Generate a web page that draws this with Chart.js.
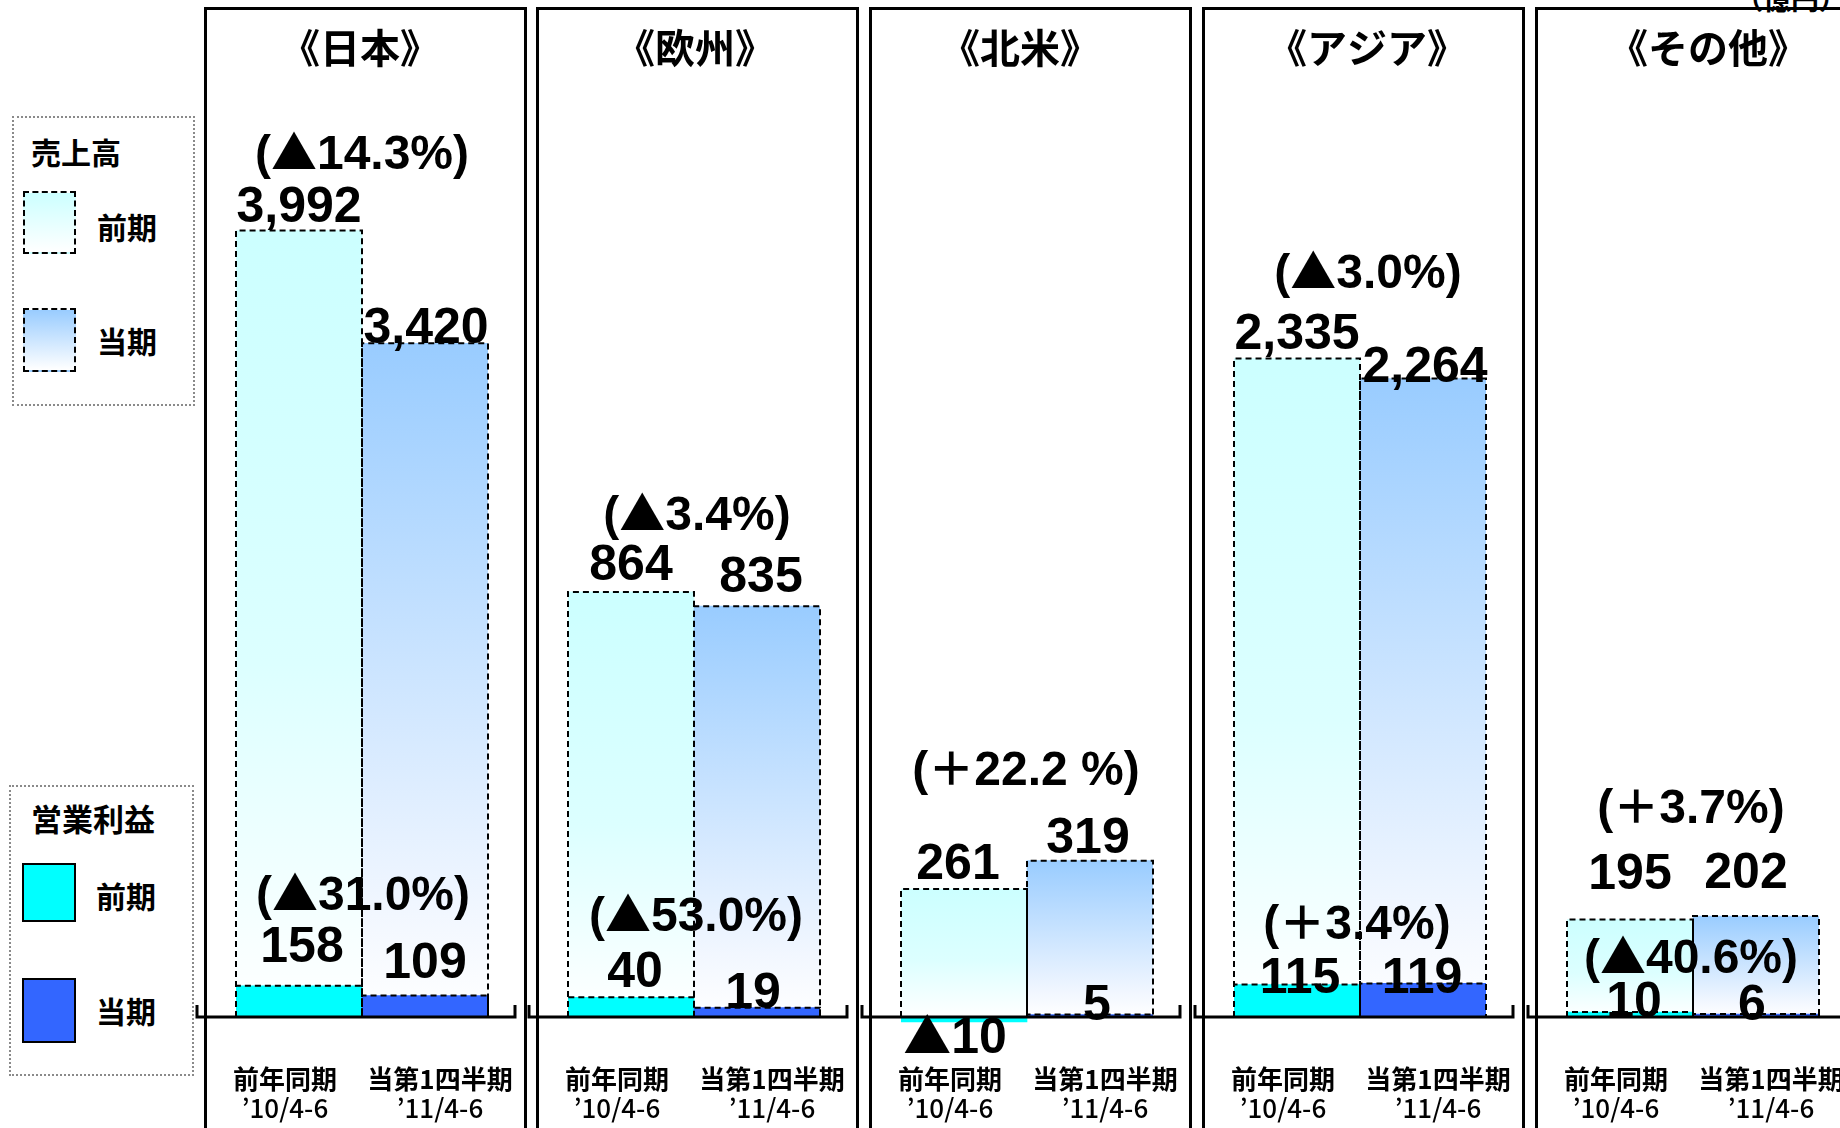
<!DOCTYPE html>
<html lang="ja">
<head>
<meta charset="utf-8">
<script src="https://cdn.jsdelivr.net/npm/chart.js@4.4.1/dist/chart.umd.min.js"></script>
<style>
  html, body { margin:0; padding:0; background:#fff; }
  body { width:1840px; height:1128px; overflow:hidden; position:relative; font-family:"Noto Sans CJK JP", sans-serif; }
  .box { position:absolute; top:7px; height:1200px; width:323px; box-sizing:border-box; border:3px solid #000; border-bottom:none; }
  canvas.pc { position:absolute; top:0; }
  .leg { position:absolute; box-sizing:border-box; border:2px dotted #8a8a8a; }
  .lt { position:absolute; font-weight:bold; color:#000; white-space:nowrap; }
  .sw { position:absolute; box-sizing:border-box; }
  .unit { position:absolute; left:1735px; top:-16px; font:bold 28px/28px "Noto Sans CJK JP"; white-space:nowrap; }
</style>
</head>
<body>
<div class="unit">（億円）</div>

<div class="leg" style="left:12px;top:116px;width:183px;height:290px;"></div>
<div class="lt" style="left:31px;top:136px;font-size:30px;line-height:30px;">売上高</div>
<div class="sw" style="left:23px;top:191px;width:53px;height:63px;border:2px dashed #000;background:linear-gradient(#ccffff,#ffffff);"></div>
<div class="lt" style="left:97px;top:211px;font-size:30px;line-height:30px;">前期</div>
<div class="sw" style="left:23px;top:308px;width:53px;height:64px;border:2px dashed #000;background:linear-gradient(#99ccff,#ffffff);"></div>
<div class="lt" style="left:97px;top:325px;font-size:30px;line-height:30px;">当期</div>

<div class="leg" style="left:9px;top:785px;width:185px;height:291px;"></div>
<div class="lt" style="left:31px;top:802px;font-size:31px;line-height:31px;">営業利益</div>
<div class="sw" style="left:22px;top:863px;width:54px;height:59px;border:2px solid #000;background:#00ffff;"></div>
<div class="lt" style="left:96px;top:880px;font-size:30px;line-height:30px;">前期</div>
<div class="sw" style="left:22px;top:978px;width:54px;height:65px;border:2px solid #000;background:#3366ff;"></div>
<div class="lt" style="left:96px;top:995px;font-size:30px;line-height:30px;">当期</div>

<script>
// ---------------- data ----------------
const regions = ['《日本》', '《欧州》', '《北米》', '《アジア》', '《その他》'];
const periodNames = ['前年同期', '当第1四半期'];
const periodDates = ['’10/4-6', '’11/4-6'];
const salesPrev = [3992, 864, 261, 2335, 195];
const salesCur  = [3420, 835, 319, 2264, 202];
const opPrev    = [158, 40, -10, 115, 10];
const opCur     = [109, 19, 5, 119, 6];
const salesChange = ['(▲14.3%)', '(▲3.4%)', '(＋22.2 %)', '(▲3.0%)', '(＋3.7%)'];
const opChange    = ['(▲31.0%)', '(▲53.0%)', '', '(＋3.4%)', '(▲40.6%)'];

// ---------------- layout ----------------
const boxLeft = [205, 537, 870, 1203, 1536];
const pxPerUnit = [0.197, 0.492, 0.49, 0.282, 0.5];
const H = 1128, ZERO_Y = 1017, CW = 340, PAD_L = 43, PAD_R = 45;
const salesLblDx = [[0,1],[0,4],[-6,-2],[0,2],[0,-10]];
const salesLblDy = [[-9,0],[-12,-14],[-10,-8],[-10,3],[-31,-28]];
const opLblDx = [[3,0],[4,-4],[-9,7],[3,-1],[4,-4]];
const opLblDy = [[-24,-18],[-10,0],[31,5],[8,10],[5,6]];
const salesPctDx = [0,3,-1,8,-2], salesPctDy = [-62,-62,-76,-71,-93];
const opPctDx = [1,2,0,-3,-2], opPctDy = [-76,-66,0,-44,-39];
const titleDx = [-2,1,-7,7,15];
const catDx = [-14, 15];

function fmt(v) {
  const s = Math.abs(v).toLocaleString('en-US');
  return v < 0 ? '▲' + s : s;
}

// draws text centred at x, with ▲ and full-width signs taken from the CJK font
function drawMixed(c, text, x, y, size) {
  const latin = 'bold ' + size + 'px "Liberation Sans"';
  const cjk = 'bold ' + Math.round(size * 0.95) + 'px "Noto Sans CJK JP"';
  const runs = [];
  for (const ch of text) {
    const isCjk = ch === '▲' || ch === '＋';
    const f = isCjk ? cjk : latin;
    if (runs.length && runs[runs.length - 1].f === f) runs[runs.length - 1].t += ch;
    else runs.push({ f, t: ch });
  }
  let total = 0;
  runs.forEach(r => { c.font = r.f; r.w = c.measureText(r.t).width; total += r.w; });
  let cx = x - total / 2;
  c.textAlign = 'left';
  runs.forEach(r => { c.font = r.f; c.fillText(r.t, cx, y); cx += r.w; });
  c.textAlign = 'center';
}

function salesGradient(ctx) {
  if (ctx.type !== 'data') return 'rgba(0,0,0,0)';
  const chart = ctx.chart, ys = chart.scales.y;
  if (!chart.chartArea || !ys) return '#ccffff';
  const top = ys.getPixelForValue(ctx.raw), base = ys.getPixelForValue(0);
  const g = chart.ctx.createLinearGradient(0, top, 0, base);
  if (ctx.dataIndex === 0) {
    g.addColorStop(0, '#ccffff'); g.addColorStop(0.55, '#dcffff'); g.addColorStop(1, '#ffffff');
  } else {
    g.addColorStop(0, '#99ccff'); g.addColorStop(0.85, '#f2f7ff'); g.addColorStop(1, '#ffffff');
  }
  return g;
}

const panelPlugin = {
  id: 'panel',
  afterDatasetsDraw(chart, args, opts) {
    const i = opts.index, c = chart.ctx, ys = chart.scales.y, area = chart.chartArea;
    const zero = ys.getPixelForValue(0);
    const sMeta = chart.getDatasetMeta(0).data, oMeta = chart.getDatasetMeta(1).data;
    // dashed bar outlines
    c.save();
    c.setLineDash([6, 4]); c.lineWidth = 2; c.strokeStyle = '#000';
    [sMeta, oMeta].forEach((bars, di) => {
      bars.forEach((bar, k) => {
        const v = chart.data.datasets[di].data[k];
        if (v < 0) return;
        const p = bar.getProps(['x', 'y', 'base', 'width'], true);
        const l = p.x - p.width / 2, r = p.x + p.width / 2;
        c.beginPath(); c.moveTo(l, p.base); c.lineTo(l, p.y); c.lineTo(r, p.y); c.lineTo(r, p.base); c.stroke();
      });
    });
    c.restore();
    // axis line with end ticks
    c.save();
    c.lineWidth = 3; c.strokeStyle = '#000'; c.lineCap = 'butt';
    c.beginPath();
    c.moveTo(4, zero - 12); c.lineTo(4, zero); c.lineTo(322, zero); c.lineTo(322, zero - 12);
    c.stroke();
    c.restore();
    // texts
    const mid = (area.left + area.right) / 2;
    c.save();
    c.fillStyle = '#000'; c.textAlign = 'center';
    // title
    c.textBaseline = 'middle';
    c.font = 'bold 40px "Noto Sans CJK JP"';
    c.fillText(regions[i], mid + titleDx[i], 48);
    // category labels
    sMeta.forEach((bar, k) => {
      c.font = 'bold 26px "Noto Sans CJK JP"';
      c.fillText(periodNames[k], bar.x + catDx[k], 1079);
      c.font = '500 26px "Noto Sans CJK JP"';
      c.fillText(periodDates[k], bar.x + catDx[k], 1108);
    });
    c.textBaseline = 'alphabetic';
    // percent changes
    const sTop = Math.min(...sMeta.map(b => b.y));
    drawMixed(c, salesChange[i], mid + salesPctDx[i], sTop + salesPctDy[i], 48);
    if (opChange[i]) {
      const oTop = Math.min(...oMeta.map(b => b.y));
      drawMixed(c, opChange[i], mid + opPctDx[i], oTop + opPctDy[i], 48);
    }
    // value labels
    const sv = chart.data.datasets[0].data, ov = chart.data.datasets[1].data;
    sMeta.forEach((bar, k) => drawMixed(c, fmt(sv[k]), bar.x + salesLblDx[i][k], bar.y + salesLblDy[i][k], 50));
    oMeta.forEach((bar, k) => drawMixed(c, fmt(ov[k]), bar.x + opLblDx[i][k], bar.y + opLblDy[i][k], 50));
    c.restore();
  }
};

regions.forEach((name, i) => {
  const box = document.createElement('div');
  box.className = 'box';
  box.style.left = (boxLeft[i] - 1.5) + 'px';
  document.body.appendChild(box);

  const cv = document.createElement('canvas');
  cv.className = 'pc';
  cv.width = CW; cv.height = H;
  cv.style.left = (boxLeft[i] - 12) + 'px';
  cv.style.width = CW + 'px'; cv.style.height = H + 'px';
  document.body.appendChild(cv);

  const k = pxPerUnit[i];
  new Chart(cv, {
    type: 'bar',
    data: {
      labels: periodNames,
      datasets: [
        { label: '売上高', data: [salesPrev[i], salesCur[i]], backgroundColor: salesGradient,
          borderWidth: 0, grouped: false, order: 2, categoryPercentage: 1, barPercentage: 1 },
        { label: '営業利益', data: [opPrev[i], opCur[i]], backgroundColor: ['#00ffff', '#3366ff'],
          borderWidth: 0, grouped: false, order: 1, categoryPercentage: 1, barPercentage: 1 }
      ]
    },
    options: {
      responsive: false,
      animation: false,
      devicePixelRatio: 1,
      layout: { padding: { left: PAD_L, right: PAD_R, top: 0, bottom: 0 } },
      scales: {
        x: { display: false },
        y: { display: false, min: -(H - ZERO_Y) / k, max: ZERO_Y / k }
      },
      plugins: { legend: { display: false }, tooltip: { enabled: false }, title: { display: false }, panel: { index: i } }
    },
    plugins: [panelPlugin]
  });
});
</script>
</body>
</html>
